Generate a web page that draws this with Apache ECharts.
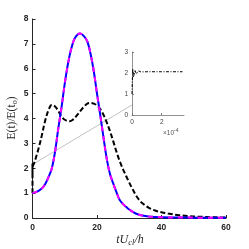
<!DOCTYPE html>
<html><head><meta charset="utf-8">
<script src="https://cdn.jsdelivr.net/npm/echarts@6/dist/echarts.min.js"></script>
<style>html,body{margin:0;padding:0;background:#fff}#c{width:249px;height:249px}</style>
</head><body><div id="c"></div>
<script>
// Blue (solid) / magenta (dashed) curve
const blueT = [0,1,2,3,4,5,6,7,8,9,10,11,12,13,14,14.8,16,17,18,19,20,21,22,23,24,25,26,27,28,29,30,32,34,36,40,45,50,60];
const blueE = [1.0,1.04,1.1,1.2,1.38,1.65,2.0,2.67,3.6,4.45,5.4,6.2,6.8,7.2,7.38,7.42,7.3,7.1,6.6,5.9,5.0,4.15,3.25,2.4,1.78,1.4,1.05,0.73,0.57,0.45,0.34,0.18,0.1,0.06,0.03,0.02,0.015,0.01];
// Black dashed curve (long time)
const blackT = [0.0001,0.5,1.3,2,2.9,4,5,6,7,8,9,10,11.5,12.5,13.8,15,16,17,18,19,20,21,22,23,24,25,26,27,28,29,30,31,32,33,34,36,38,40,42,45,48,52,56,60];
const blackE = [2.07,2.2,2.53,2.85,3.33,3.95,4.35,4.55,4.48,4.3,4.08,3.95,3.89,3.95,4.13,4.33,4.48,4.6,4.63,4.6,4.53,4.38,4.15,3.85,3.5,3.1,2.68,2.3,1.98,1.7,1.42,1.17,0.93,0.74,0.6,0.42,0.3,0.23,0.18,0.12,0.08,0.05,0.03,0.02];
// Inset: short-time transient of the black curve
const insetT = [0,0.02e-4,0.05e-4,0.1e-4,0.2e-4,0.3e-4,0.45e-4,0.6e-4,1e-4,2e-4,3.4e-4];
const insetE = [1.0,1.6,2.2,1.8,2.15,1.95,2.1,2.05,2.06,2.06,2.06];
// Ticks
const mainXTicks = [0,20,40,60];
const mainYTicks = [0,1,2,3,4,5,6,7,8];
const insetXTicks = [0,2e-4];
const insetYTicks = [0,1,2,3];

const zip = (a,b)=>a.map((v,i)=>[v,b[i]]);
const chart = echarts.init(document.getElementById('c'), null, {renderer:'canvas'});
const tickFont = {fontFamily:'Liberation Sans, Arial, sans-serif', fontWeight:'bold', fontSize:8.5, color:'#262626'};
const insetFont = {fontFamily:'Liberation Sans, Arial, sans-serif', fontSize:6.5, color:'#444'};
chart.setOption({
  animation:false,
  grid:[
    {left:32.5, right:23, top:19, bottom:31},
    {left:132, right:65, top:52, bottom:134}
  ],
  xAxis:[
    {gridIndex:0, type:'value', min:mainXTicks[0], max:mainXTicks[mainXTicks.length-1], interval:20,
     axisLine:{lineStyle:{color:'#262626', width:1}}, axisTick:{inside:true, length:3, lineStyle:{color:'#262626'}},
     splitLine:{show:false}, axisLabel:Object.assign({margin:5}, tickFont)},
    {gridIndex:1, type:'value', min:0, max:3.5e-4, interval:2e-4,
     axisLine:{lineStyle:{color:'#777', width:0.8}}, axisTick:{inside:true, length:2, lineStyle:{color:'#777'}},
     splitLine:{show:false}, axisLabel:Object.assign({margin:4, showMaxLabel:false, formatter:v=>String(Math.round(v*1e4))}, insetFont)}
  ],
  yAxis:[
    {gridIndex:0, type:'value', min:0, max:8, interval:1,
     axisLine:{show:true, lineStyle:{color:'#262626', width:1}}, axisTick:{show:true, inside:true, length:3, lineStyle:{color:'#262626'}},
     splitLine:{show:false}, axisLabel:Object.assign({margin:4}, tickFont)},
    {gridIndex:1, type:'value', min:0, max:3, interval:1,
     axisLine:{show:true, lineStyle:{color:'#777', width:0.8}}, axisTick:{show:true, inside:true, length:2, lineStyle:{color:'#777'}},
     splitLine:{show:false}, axisLabel:Object.assign({margin:4}, insetFont)}
  ],
  series:[
    {type:'line', xAxisIndex:0, yAxisIndex:0, data:zip(blackT,blackE), showSymbol:false, smooth:0.35,
     lineStyle:{color:'#000', width:2, type:[5,2.5]}, z:2},
    {type:'line', xAxisIndex:0, yAxisIndex:0, data:zip(insetT,insetE), showSymbol:false,
     lineStyle:{color:'#000', width:2, type:[5,2.5]}, z:2},
    {type:'line', xAxisIndex:0, yAxisIndex:0, data:zip(blueT,blueE), showSymbol:false, smooth:0.35,
     lineStyle:{color:'#0000ff', width:2, type:'solid'}, z:3},
    {type:'line', xAxisIndex:0, yAxisIndex:0, data:zip(blueT,blueE), showSymbol:false, smooth:0.35,
     lineStyle:{color:'#ff00ff', width:2, type:[5,5]}, z:4},
    {type:'line', xAxisIndex:1, yAxisIndex:1, data:zip(insetT,insetE), showSymbol:false,
     lineStyle:{color:'#000', width:1, type:[3,1.5,1,1.5]}, z:5}
  ],
  graphic:[
    {type:'text', id:'ytitle', x:12, y:118, rotation:Math.PI/2, style:{
      text:'E(t)/E(t{s|o})', rich:{s:{fontSize:8, fontFamily:'Liberation Serif, DejaVu Serif, serif', fill:'#262626', padding:[5,0,0,0]}},
      fontFamily:'Liberation Serif, DejaVu Serif, serif', fontSize:11.5, fill:'#262626', align:'center', verticalAlign:'middle'}},
    {type:'text', id:'xtitle', x:130, y:240, style:{
      text:'{i|tU}{s|cl}{i|/h}', rich:{i:{fontSize:12, fontStyle:'italic', fontFamily:'Liberation Serif, DejaVu Serif, serif', fill:'#262626'},
        s:{fontSize:8.5, fontStyle:'italic', fontFamily:'Liberation Serif, DejaVu Serif, serif', fill:'#262626', padding:[6,0,0,0]}},
      align:'center', verticalAlign:'middle'}},
    {type:'text', id:'exp', x:163, y:133, style:{
      text:'×10{p|-4}', rich:{p:{fontSize:5, padding:[0,0,5,0], fill:'#555', fontFamily:'Liberation Sans, Arial, sans-serif'}},
      fontSize:6.5, fill:'#555', fontFamily:'Liberation Sans, Arial, sans-serif', verticalAlign:'middle'}}
  ]
});
const p1 = chart.convertToPixel({gridIndex:0}, [0, 2.15]);
const p2 = chart.convertToPixel({gridIndex:1}, [0, 0.48]);
chart.setOption({graphic:[{type:'line', id:'connector', shape:{x1:p1[0], y1:p1[1], x2:p2[0], y2:p2[1]}, style:{stroke:'#999', lineWidth:0.6}, z:1}]});
</script></body></html>
